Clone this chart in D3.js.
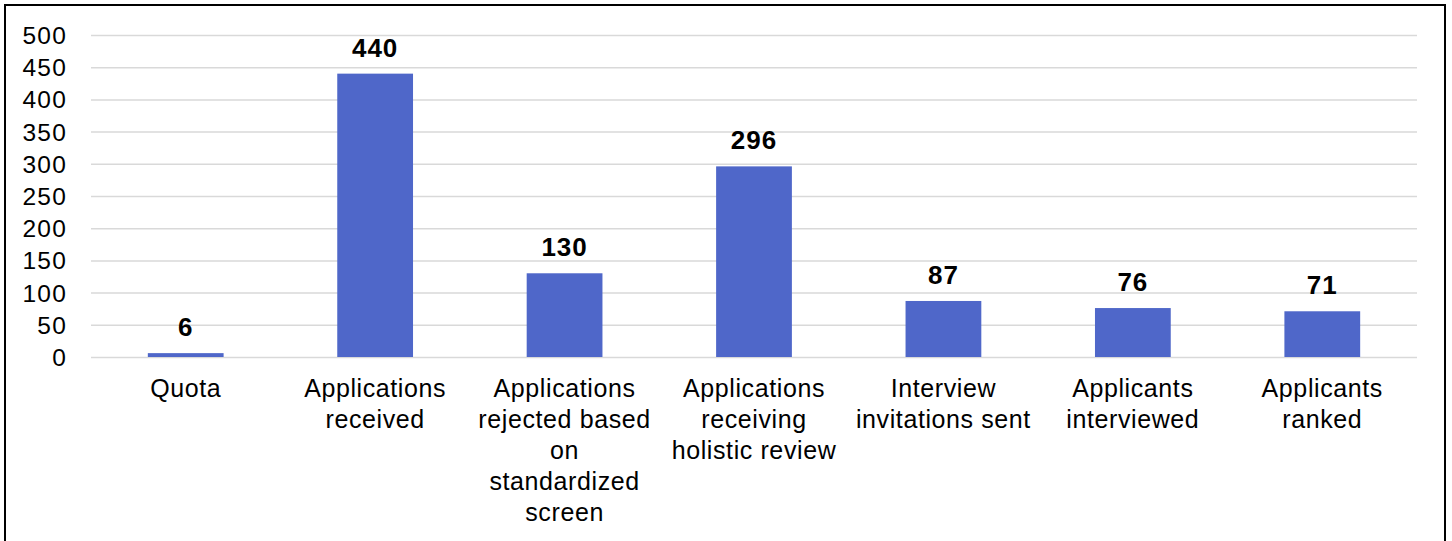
<!DOCTYPE html>
<html><head><meta charset="utf-8">
<script src="https://cdn.jsdelivr.net/npm/d3@7"></script>
<style>
html,body{margin:0;padding:0;background:#fff;}
svg{display:block;}
text{font-family:"Liberation Sans",Arial,sans-serif;fill:#000;}
</style></head>
<body>
<svg id="chart" width="1452" height="541"></svg>
<script>
const categories = [
  ["Quota"],
  ["Applications", "received"],
  ["Applications", "rejected based", "on", "standardized", "screen"],
  ["Applications", "receiving", "holistic review"],
  ["Interview", "invitations sent"],
  ["Applicants", "interviewed"],
  ["Applicants", "ranked"]
];
const values = [6, 440, 130, 296, 87, 76, 71];
const yTicks = [0, 50, 100, 150, 200, 250, 300, 350, 400, 450, 500];

const svg = d3.select("#chart");
const m = {left: 91, right: 1417, top: 35, bottom: 357};

svg.append("rect").attr("x", 5).attr("y", 5).attr("width", 1440).attr("height", 545)
  .attr("fill", "none").attr("stroke", "#000").attr("stroke-width", 2);

const x = d3.scaleBand().domain(d3.range(values.length)).range([m.left, m.right]).paddingInner(0.6).paddingOuter(0.3);
const y = d3.scaleLinear().domain([0, 500]).range([m.bottom, m.top]);

const yAxis = d3.axisLeft(y).tickValues(yTicks).tickSize(-(m.right - m.left)).tickPadding(24);
const gy = svg.append("g").attr("transform", `translate(${m.left},0)`).call(yAxis);
gy.select(".domain").remove();
gy.selectAll(".tick line").attr("stroke", "#d9d9d9").attr("stroke-width", 1.5);
gy.selectAll(".tick text").attr("font-size", 24.5).attr("letter-spacing", "1.2px")
  .attr("font-family", "Liberation Sans, Arial, sans-serif").attr("fill", "#000").attr("dy", "0.35em");

svg.append("g").selectAll("rect").data(values).join("rect")
  .attr("x", (d, i) => x(i)).attr("width", x.bandwidth())
  .attr("y", d => y(d)).attr("height", d => y(0) - y(d))
  .attr("fill", "#4f67c9");

svg.append("g").selectAll("text").data(values).join("text")
  .attr("x", (d, i) => x(i) + x.bandwidth() / 2)
  .attr("y", d => y(d) - 17)
  .attr("text-anchor", "middle").attr("font-size", 26).attr("font-weight", "bold")
  .attr("letter-spacing", "1px")
  .text(d => d);

const gx = svg.append("g");
categories.forEach((lines, i) => {
  const cx = x(i) + x.bandwidth() / 2;
  const t = gx.append("text").attr("text-anchor", "middle").attr("font-size", 25)
    .attr("letter-spacing", "0.6px").attr("x", cx).attr("y", 397);
  lines.forEach((ln, j) => {
    t.append("tspan").attr("x", cx).attr("y", 397 + j * 31).text(ln);
  });
});
</script>
</body></html>
